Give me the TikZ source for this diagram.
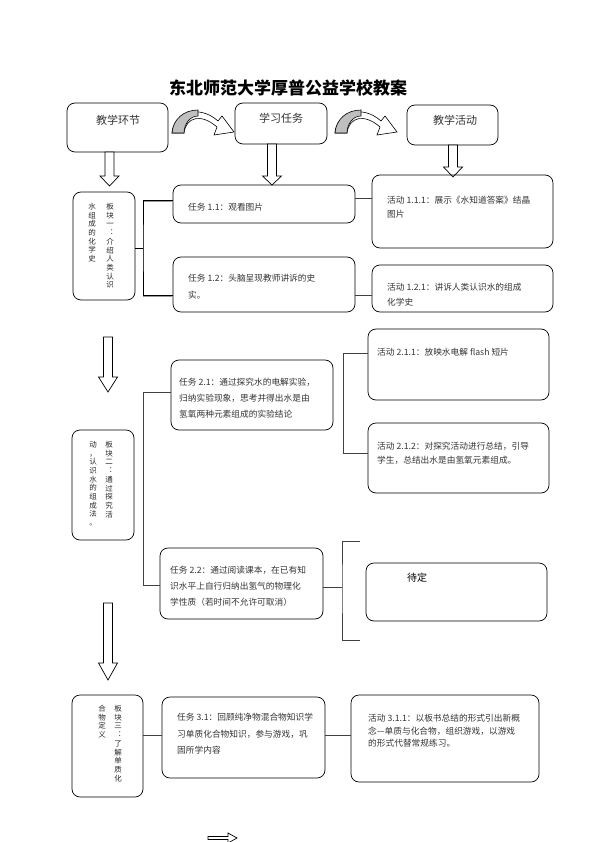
\documentclass[tikz,border=0pt]{standalone}
\usepackage{fontspec}
\usepackage{tikz}
\usetikzlibrary{calc}
\newfontfamily\cjk{Noto Sans CJK SC}
% rounded box from its two corners
\newcommand{\rbox}[5]{\node[box, minimum width={#4-#2}, minimum height={#5-#3}] (#1) at ({(#2+#4)/2},{(#3+#5)/2}) {};}
% hollow block arrow pointing down: x, top, head start, tip
\newcommand{\hdown}[4]{\draw[harrow] ({#1-4.5},#2) -- ({#1+4.5},#2) -- ({#1+4.5},#3) -- ({#1+9.5},#3) -- (#1,#4) -- ({#1-9.5},#3) -- ({#1-4.5},#3) -- cycle;}
% curved arrow between the head boxes
\newcommand{\curvarr}[2]{%
  \begin{scope}[shift={(#1,#2)}]
    \draw[line width=0.6pt, fill=white] (0,25) .. controls (1,6) and (26,-5) .. (46,13) -- (50,8) -- (62,24) -- (42,27) -- (45,19) .. controls (29,5) and (14,9) .. (12,25) -- cycle;
    \draw[line width=0.6pt, fill=black!25] (0,25) .. controls (1,11) and (12,2) .. (26,2) -- (26,8) .. controls (18,8) and (12,16) .. (12,25) -- cycle;
  \end{scope}}

\begin{document}
\begin{tikzpicture}[x=1pt,y=-1pt,
  box/.style={draw, rounded corners=8pt, line width=0.7pt},
  txt/.style={font=\cjk\fontsize{8.7}{16}\selectfont, text=black!80, align=left, anchor=north west, inner sep=0pt},
  head/.style={font=\cjk\fontsize{11}{13}\selectfont, text=black!80, inner sep=0pt},
  vtxt/.style={font=\cjk\fontsize{7.5}{8.7}\selectfont, text=black!85, align=center, anchor=north, inner sep=0pt},
  link/.style={draw=black!75, line width=0.9pt},
  shade/.style={draw=black!40, line width=1pt, xshift=1.3pt, yshift=-1.3pt},
  harrow/.style={draw, line width=0.7pt, fill=white}]

\useasboundingbox (0,0) rectangle (595,842);

\node[font=\cjk\fontsize{17}{20}\selectfont\bfseries] (title) at (288,88) {东北师范大学厚普公益学校教案};

%head boxes
\rbox{hjie}{67}{103}{168}{152}
\rbox{hrw}{235}{103}{327}{144}
\rbox{hhd}{407}{105}{498}{145}
\node[head] (lhjie) at (118,120) {教学环节};
\node[head] (lhrw) at (281,118) {学习任务};
\node[head] (lhhd) at (455,120) {教学活动};
\curvarr{172}{108}
\curvarr{335}{108}
\hdown{109.5}{152}{176}{186}
\hdown{272}{144}{176}{185}
\hdown{453}{145}{167}{177}

%block 1
\rbox{sec1}{73}{192}{135}{300}
\node[vtxt] (v1a) at (110,203) {板\\块\\一\\︓\\介\\绍\\人\\类\\认\\识};
\node[vtxt] (v1b) at (92,203) {水\\组\\成\\的\\化\\学\\史};
\rbox{t11}{173}{185}{355}{223}
\rbox{t12}{173}{257}{355}{312}
\rbox{a111}{372}{175}{553}{248}
\rbox{a121}{372}{265}{553}{312}
\node[txt] (x11) at (188,203) {任务 1.1：观看图片};
\node[txt, font=\cjk\fontsize{8.7}{17}\selectfont] (x12) at (188,274) {任务 1.2：头脑呈现教师讲诉的史\\实。};
\node[txt, font=\cjk\fontsize{8.7}{13.5}\selectfont] (y111) at (387,196) {活动 1.1.1：展示《水知道答案》结晶\\图片};
\node[txt, font=\cjk\fontsize{8.7}{15}\selectfont] (y121) at (387,283) {活动 1.2.1：讲诉人类认识水的组成\\化学史};
\coordinate (k1) at (143,248);
\begin{scope}[shade]
  \draw (t11.west |- 0,200) -| (k1) |- (t12.west |- 0,295);
\end{scope}
\draw[draw=black, line width=0.9pt] (t11.west |- 0,200) -| (k1) |- (t12.west |- 0,295);
\draw[draw=black, line width=0.9pt] (sec1.east |- k1) -- (k1);
\draw[link] (t11.east |- 0,198) -- (a111.west |- 0,198);
\draw[link] (t12.east |- 0,295) -- (a121.west |- 0,295);

%block 2
\hdown{108}{337}{377}{392}
\rbox{sec2}{72}{430}{134}{540}
\node[vtxt] (v2a) at (109,441) {板\\块\\二\\︓\\通\\过\\探\\究\\活};
\node[vtxt] (v2b) at (93,441) {动\\，\\认\\识\\水\\的\\组\\成\\法\\。};
\rbox{t21}{171}{360}{333}{430}
\rbox{a211}{368}{329}{549}{400}
\rbox{a212}{368}{423}{549}{493}
\rbox{t22}{160}{548}{323}{619}
\rbox{tbd}{366}{563}{547}{621}
\node[txt] (x21) at (179,378) {任务 2.1：通过探究水的电解实验，\\归纳实验现象，思考并得出水是由\\氢氧两种元素组成的实验结论};
\node[txt] (y211) at (377,348) {活动 2.1.1：放映水电解 flash 短片};
\node[txt, font=\cjk\fontsize{8.7}{14}\selectfont] (y212) at (377,442) {活动 2.1.2：对探究活动进行总结，引导\\学生，总结出水是由氢氧元素组成。};
\node[txt] (x22) at (170,566) {任务 2.2：通过阅读课本，在已有知\\识水平上自行归纳出氢气的物理化\\学性质（若时间不允许可取消）};
\node[txt, font=\cjk\fontsize{10}{12}\selectfont, text=black] (ltbd) at (407,573) {待定};
\draw[link] (t21.west |- 0,392) -| (143,585) -- (t22.west |- 0,585);
\draw[link] (a211.west |- 0,353) -| (343,453) -- (a212.west |- 0,453);
\coordinate (b2) at (342,587);
\coordinate (b2top) at (360,541);
\coordinate (b2bot) at (360,640);
\draw[link] (t22.east |- b2) -- (b2);
\draw[link] (b2top) -| (b2) |- (b2bot);

%block 3
\hdown{108}{603}{663}{680}
\rbox{sec3}{72}{695}{143}{797}
\node[vtxt] (v3a) at (118,705) {板\\块\\三\\︓\\了\\解\\单\\质\\化};
\node[vtxt] (v3b) at (102,705) {合\\物\\定\\义};
\rbox{t31}{162}{697}{325}{778}
\rbox{a311}{351}{695}{539}{782}
\node[txt, font=\cjk\fontsize{8.7}{16.5}\selectfont] (x31) at (177,713) {任务 3.1：回顾纯净物混合物知识学\\习单质化合物知识，参与游戏，巩\\固所学内容};
\node[txt, font=\cjk\fontsize{8.7}{12.5}\selectfont] (y311) at (368,714) {活动 3.1.1：以板书总结的形式引出新概\\念—单质与化合物，组织游戏，以游戏\\的形式代替常规练习。};
\draw[link] (sec3.east |- 0,735) -- (t31.west |- 0,735);
\draw[link] (t31.east |- 0,735) -- (a311.west |- 0,735);

\draw[harrow] (208,836.5) -- (228,836.5) -- (228,833) -- (237,838) -- (228,843) -- (228,839.5) -- (208,839.5) -- cycle;
\end{tikzpicture}
\end{document}
